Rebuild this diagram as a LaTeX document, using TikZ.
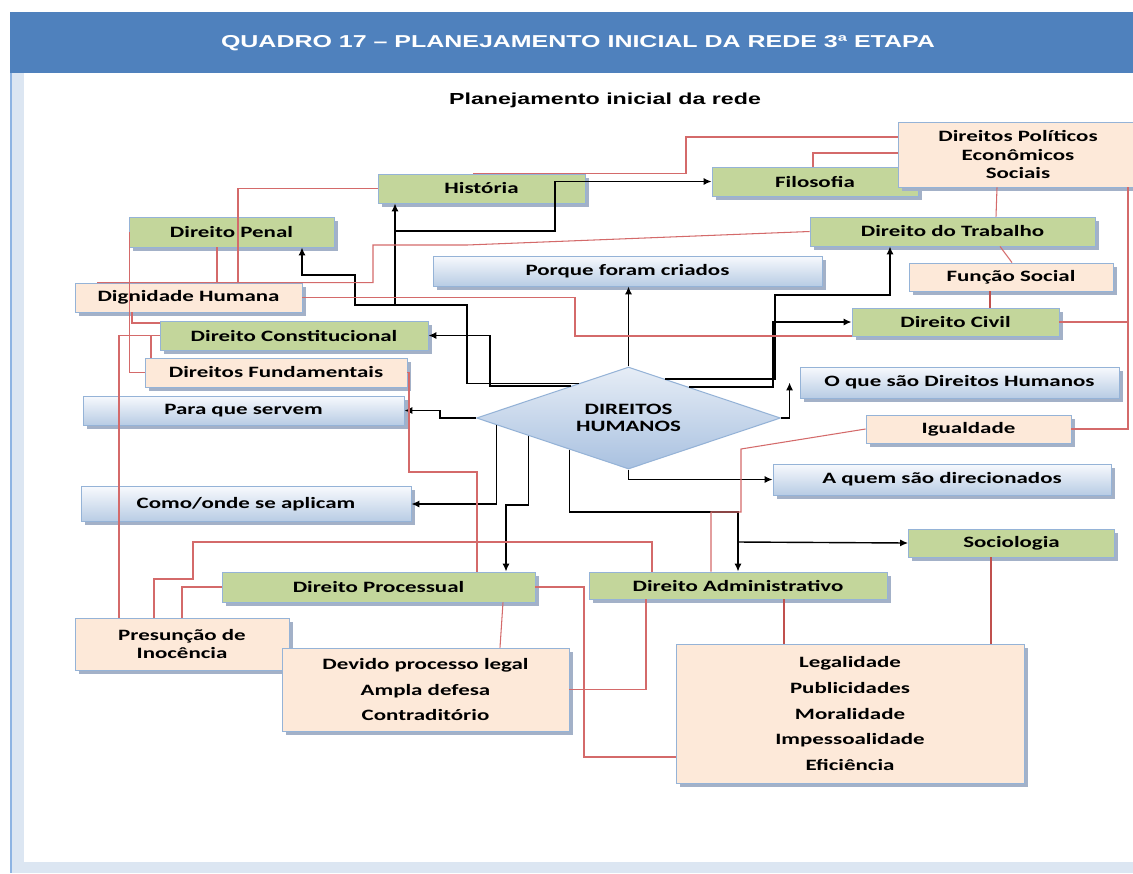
\documentclass[tikz,border=0pt]{standalone}
\usepackage{fontspec}
\setmainfont{Carlito}[FakeStretch=1.45]
\newfontfamily\arialx{Liberation Sans}[FakeStretch=1.45]
\usetikzlibrary{shapes.geometric,shadows,arrows.meta}
\definecolor{hdr}{HTML}{4F81BD}
\definecolor{frm}{HTML}{DCE6F2}
\definecolor{frmline}{HTML}{8EB4E3}
\definecolor{greenc}{HTML}{C3D69B}
\definecolor{peachc}{HTML}{FDE9D9}
\definecolor{bluetop}{HTML}{F7F9FD}
\definecolor{bluebot}{HTML}{B8CCE4}
\definecolor{bordc}{HTML}{95B3D7}
\definecolor{shadc}{HTML}{A3B1C8}
\definecolor{redl}{HTML}{D46A6A}
\definecolor{redd}{HTML}{C0504D}
\definecolor{dmtop}{HTML}{E6EDF6}
\definecolor{dmbot}{HTML}{A9C1E0}
\begin{document}
\begin{tikzpicture}[x=0.02cm,y=-0.02cm,
  bx/.style={draw=bordc, line width=0.5pt, inner sep=0pt, align=center, text=black,
    font=\bfseries\fontsize{9}{10.8}\selectfont,
    general shadow={fill=shadc, shadow xshift=0.07cm, shadow yshift=-0.07cm}},
  gbox/.style={bx, fill=greenc},
  pbox/.style={bx, fill=peachc},
  bbox/.style={bx, top color=bluetop, bottom color=bluebot},
  sz/.style 2 args={minimum width=#1*0.02cm, minimum height=#2*0.02cm},
  rl/.style={draw=redl, line width=0.6pt},
  rt/.style={draw=redd, line width=1.6pt},
  arr/.style={draw=black, line width=0.8pt, -{Latex[length=4.5pt,width=4pt]}},
]
\useasboundingbox (0,0) rectangle (1133,873);
% background and frame
\fill[white] (0,0) rectangle (1133,873);
\fill[frm] (10,73) rectangle (1133,873);
\fill[frmline] (10,73) rectangle (11.5,873);
\fill[white] (24,73) rectangle (1133,862);
\fill[hdr] (10,12) rectangle (1133,73);
\node[text=white, font=\arialx\bfseries\fontsize{9.8}{12}\selectfont] (title) at (578,43) {QUADRO 17 – PLANEJAMENTO INICIAL DA REDE 3ª ETAPA};
\node[text=black, font=\arialx\bfseries\fontsize{9.1}{11}\selectfont] (sub) at (605,100) {Planejamento inicial da rede};

% boxes
\node[gbox,sz={207}{29}] (hist) at (481.5,188.5) {História};
\node[gbox,sz={206}{29}] (filo) at (815,181.5) {Filosofia};
\node[pbox,sz={240}{65}] (dpes) at (1018,154.5) {Direitos Políticos\\Econômicos\\Sociais};
\node[gbox,sz={205}{30}] (pen) at (231.5,232) {Direito Penal};
\node[gbox,sz={285}{29}] (trab) at (952.5,231.5) {Direito do Trabalho};
\node[pbox,sz={227}{29}] (dig) at (188.5,297.5) {Dignidade Humana};
\node[pbox,sz={204}{28}] (func) at (1011,277) {Função Social};
\node[bbox,sz={389}{30}] (porq) at (627.5,271) {Porque foram criados};
\node[gbox,sz={268}{29}] (const) at (294,335.5) {Direito Constitucional};
\node[gbox,sz={207}{28}] (civil) at (955.5,322) {Direito Civil};
\node[pbox,sz={262}{29}] (fund) at (276,372.5) {Direitos Fundamentais};
\node[bbox,sz={319}{31}] (oque) at (959.5,382.5) {O que são Direitos Humanos};
\node[bbox,sz={321}{29}] (para) at (243.5,410.5) {Para que servem};
\node[pbox,sz={205}{28}] (igual) at (968.5,429) {Igualdade};
\node[bbox,sz={338}{31}] (aquem) at (942,479.5) {A quem são direcionados};
\node[bbox,sz={330}{35}] (como) at (246,504) {Como/onde se aplicam};
\node[gbox,sz={206}{28}] (soc) at (1011.5,543) {Sociologia};
\node[gbox,sz={313}{30}] (proc) at (378.5,587) {Direito Processual};
\node[gbox,sz={298}{27}] (adm) at (738,585.5) {Direito Administrativo};
\node[pbox,sz={214}{52},font=\bfseries\fontsize{9}{9.7}\selectfont] (pres) at (182,644) {Presunção de\\Inocência};
\node[pbox,sz={287}{83},font=\bfseries\fontsize{9}{14.5}\selectfont] (dev) at (425.5,689.5) {Devido processo legal\\Ampla defesa\\Contraditório};
\node[pbox,sz={348}{139},font=\bfseries\fontsize{9}{14.6}\selectfont] (leg) at (850,713.5) {Legalidade\\Publicidades\\Moralidade\\Impessoalidade\\Eficiência};
\node[shape=diamond, shape aspect=3, draw=bordc, line width=0.6pt, top color=dmtop, bottom color=dmbot,
  inner sep=0pt, minimum width=304*0.02cm, minimum height=102*0.02cm, align=center,
  font=\bfseries\fontsize{9}{9.7}\selectfont] (dh) at (628.5,418) {DIREITOS\\HUMANOS};

% black connectors
\coordinate (j1) at (395,305);
\coordinate (j2) at (395,231);
\coordinate (j3) at (738,542);
\draw[arr] (dh.north) -- (dh.north |- porq.south);
\draw[arr] (dh.145) -| (467,305) -| (355,275) -| (302,0 |- pen.south);
\draw[arr] (j1) -- (j1 |- hist.south);
\draw[arr] (j2) -| (555,0 |- filo.west) -- (filo.west);
\draw[arr] (dh.151) -| (490,0 |- const.east) -- (const.east);
\draw[arr] (dh.west) -| (440,0 |- para.east) -- (para.east);
\draw[arr] (dh.183) |- (como.east);
\draw[arr] (dh.190) |- (506,505) -- (506,0 |- proc.north);
\draw[arr] (dh.208) |- (adm.north |- 0,512) -- (adm.north);
\draw[arr] (j3) -- (soc.west);
\draw[arr] (dh.south) |- (aquem.west);
\draw[arr] (dh.east) -| ([xshift=-0.2cm]oque.west);
\draw[arr] (dh.47) -| (775,295) -| (890,0 |- trab.south);
\draw[arr] (dh.27) -| (773,0 |- civil.west) -- (civil.west);

% red connectors
\draw[rl] (hist.west) -| (238,0 |- dig.north);
\draw[rl] (217,0 |- pen.south) -- (217,0 |- dig.north);
\draw[rl] (97,0 |- dig.north) -- (373,0 |- dig.north) -- (373,245) -- (467,245) -- (trab.west);
\draw[rl] ([xshift=0.02cm]pen.west) |- (fund.west);
\draw[rl] (132,0 |- dig.south) |- (const.west |- 0,323);
\draw[rl] (const.west) -| (119,0 |- pres.north);
\draw[rl] (151,0 |- const.west) -- (151,0 |- fund.north);
\draw[rl] (fund.east) -| (409,472) -| (477,0 |- proc.north);
\draw[rl] (473,0 |- hist.north) -| (686,137) -- (dpes.west |- 0,137);
\draw[rl] (813,0 |- filo.north) |- (dpes.west |- 0,153);
\draw[rl] (997,0 |- dpes.south) -- (996,0 |- trab.north);
\draw[rl] (1000,0 |- trab.south) -- (1012,0 |- func.north);
\draw[rt] (990,0 |- func.south) -- (990,0 |- civil.north);
\draw[rl] (1128,0 |- dpes.south) |- (civil.east);
\draw[rl] (igual.east) -| (1128,0 |- civil.east);
\draw[rl] (dig.east) -| (575,336) -- (civil.west |- 0,336);
\draw[rl] (igual.west) -- (741,449) -- (741,512) -| (711,0 |- adm.north);
\draw[rl] (652,0 |- adm.north) |- (193,542) |- (154,579) -- (154,0 |- pres.north);
\draw[rl] (proc.west) -| (182,0 |- pres.north);
\draw[rl] (proc.east) -| (584,757) -- (leg.west |- 0,757);
\draw[rl] (503,0 |- proc.south) -- (500,0 |- dev.north);
\draw[rl] (646,0 |- adm.south) |- (dev.east);
\draw[rt] (784,0 |- adm.south) -- (784,0 |- leg.north);
\draw[rt] (991,0 |- soc.south) -- (991,0 |- leg.north);
\end{tikzpicture}
\end{document}
